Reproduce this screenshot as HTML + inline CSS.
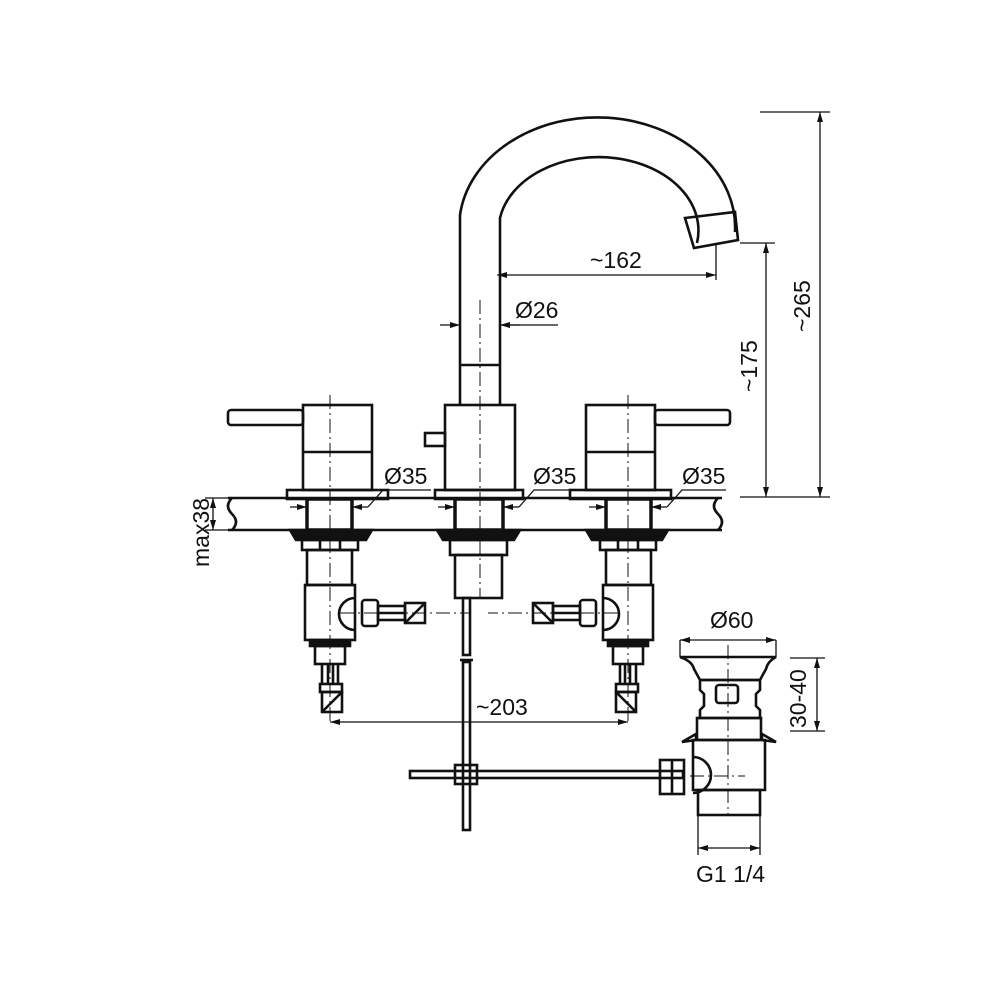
<!DOCTYPE html>
<html><head><style>html,body{margin:0;background:#fff}svg{display:block}text{font-family:"Liberation Sans",sans-serif;font-size:23px;fill:#111}</style></head><body>
<svg width="1000" height="1000" viewBox="0 0 1000 1000" xmlns="http://www.w3.org/2000/svg">
<defs>
<marker id="a" viewBox="0 0 10 6" refX="10" refY="3" markerWidth="10" markerHeight="6" orient="auto-start-reverse" markerUnits="userSpaceOnUse"><path d="M0,0L10,3L0,6z" fill="#111"/></marker>
<g id="valve">
<rect x="303" y="405" width="69" height="85" />
<line x1="303" y1="452" x2="372" y2="452"/>
<rect x="228" y="410" width="75" height="15" rx="3"/>
<rect x="287" y="490" width="101" height="9"/>
<rect x="307" y="499" width="45" height="31" stroke-width="3.5"/>
<path d="M290,530h82l-6,10h-70z" fill="#111"/>
<rect x="302" y="540" width="56" height="10"/>
<line x1="320" y1="540" x2="320" y2="550"/><line x1="340" y1="540" x2="340" y2="550"/>
<rect x="307" y="550" width="45" height="35"/>
<rect x="305" y="585" width="50" height="55"/>
<path d="M355,598a16,16 0 0 0 0,32" />
<rect x="362" y="600" width="16" height="26" rx="3"/>
<rect x="378" y="606" width="27" height="14"/>
<line x1="378" y1="613" x2="405" y2="613"/>
<rect x="405" y="603" width="20" height="20"/><line x1="405" y1="623" x2="425" y2="603"/>
<rect x="310" y="640" width="40" height="6" fill="#111"/>
<rect x="315" y="646" width="30" height="18"/>
<line x1="322" y1="664" x2="322" y2="685"/><line x1="328" y1="664" x2="328" y2="685"/><line x1="333" y1="664" x2="333" y2="685"/><line x1="338" y1="664" x2="338" y2="685"/>
<rect x="320" y="684" width="22" height="8"/>
<rect x="322" y="692" width="20" height="20"/><line x1="322" y1="712" x2="342" y2="692"/>
<line x1="330" y1="395" x2="330" y2="725" stroke-width="1" stroke-dasharray="14,4,2,4"/>
<line x1="340" y1="613" x2="470" y2="613" stroke-width="1" stroke-dasharray="14,4,2,4"/>
</g>
</defs>
<g fill="none" stroke="#111" stroke-width="2.6">
<line x1="228" y1="498" x2="722" y2="498"/><line x1="228" y1="530" x2="722" y2="530"/>
<path d="M232,498q-8,8 0,16q8,8 0,16M718,498q-8,8 0,16q8,8 0,16"/>
<use href="#valve"/>
<use href="#valve" transform="translate(958,0) scale(-1,1)"/>
<path d="M460,405V215A138,110 0 0 1 735,232"/>
<path d="M500,405V218A98,72 0 0 1 697,243"/>
<path d="M685,218l50,-6l3,28l-44,8z"/>
<line x1="460" y1="365" x2="500" y2="365"/>
<rect x="445" y="405" width="70" height="85"/>
<rect x="425" y="433" width="20" height="13"/>
<rect x="435" y="490" width="88" height="9"/>
<rect x="455" y="499" width="48" height="31" stroke-width="3.5"/>
<path d="M437,530h83l-6,10h-71z" fill="#111"/>
<rect x="450" y="540" width="57" height="15"/>
<rect x="455" y="555" width="47" height="43"/>
<line x1="480" y1="300" x2="480" y2="598" stroke-width="1" stroke-dasharray="14,4,2,4"/>
<rect x="463" y="598" width="7" height="57"/>
<rect x="463" y="662" width="7" height="168"/>
<line x1="460" y1="660" x2="473" y2="660"/>
<rect x="410" y="771" width="273" height="7"/>
<rect x="455" y="765" width="22" height="19"/>
<path d="M680,657h96q-8,4 -10,12l-6,11h-60l-6,-11q-2,-8 -14,-12z"/>
<path d="M700,680h60v10l-4,4v12l4,4v8h-60v-8l4,-4v-12l-4,-4z"/>
<rect x="716" y="685" width="22" height="18" rx="3"/>
<rect x="697" y="718" width="64" height="22"/>
<path d="M693,740h72v50h-72zM682,742l14,-8v6zM776,742l-14,-8v6z"/>
<path d="M693,757a18,18 0 0 1 0,36"/>
<rect x="660" y="760" width="24" height="34"/><line x1="672" y1="760" x2="672" y2="794"/>
<rect x="698" y="790" width="62" height="25"/>
<line x1="728" y1="645" x2="728" y2="815" stroke-width="1" stroke-dasharray="14,4,2,4"/>
<line x1="690" y1="776" x2="745" y2="776" stroke-width="1" stroke-dasharray="14,4,2,4"/>
</g>
<g stroke="#111" stroke-width="1.3" fill="none">
<line x1="497" y1="275" x2="716" y2="275" marker-start="url(#a)" marker-end="url(#a)"/>
<line x1="716" y1="245" x2="716" y2="280"/>
<line x1="440" y1="325" x2="460" y2="325" marker-end="url(#a)"/><line x1="520" y1="325" x2="500" y2="325" marker-end="url(#a)"/><line x1="500" y1="325" x2="558" y2="325"/>
<line x1="740" y1="243" x2="775" y2="243"/><line x1="766" y1="243" x2="766" y2="497" marker-start="url(#a)" marker-end="url(#a)"/>
<line x1="760" y1="112" x2="830" y2="112"/><line x1="820" y1="112" x2="820" y2="497" marker-start="url(#a)" marker-end="url(#a)"/>
<line x1="740" y1="497" x2="830" y2="497"/>
<line x1="205" y1="498" x2="228" y2="498"/><line x1="205" y1="530" x2="228" y2="530"/>
<line x1="213" y1="498" x2="213" y2="530" marker-start="url(#a)" marker-end="url(#a)"/>
<line x1="330" y1="722" x2="628" y2="722" marker-start="url(#a)" marker-end="url(#a)"/>
<line x1="680" y1="640" x2="776" y2="640" marker-start="url(#a)" marker-end="url(#a)"/>
<line x1="680" y1="640" x2="680" y2="657"/><line x1="776" y1="640" x2="776" y2="657"/>
<line x1="790" y1="658" x2="825" y2="658"/><line x1="790" y1="731" x2="825" y2="731"/>
<line x1="817" y1="658" x2="817" y2="731" marker-start="url(#a)" marker-end="url(#a)"/>
<line x1="698" y1="815" x2="698" y2="855"/><line x1="760" y1="815" x2="760" y2="855"/>
<line x1="698" y1="848" x2="760" y2="848" marker-start="url(#a)" marker-end="url(#a)"/>
<line x1="290" y1="507" x2="307" y2="507" marker-end="url(#a)"/><line x1="368" y1="507" x2="352" y2="507" marker-end="url(#a)"/><path d="M368,507l15,-17h48"/>
<line x1="438" y1="507" x2="455" y2="507" marker-end="url(#a)"/><line x1="519" y1="507" x2="503" y2="507" marker-end="url(#a)"/><path d="M519,507l15,-17h46"/>
<line x1="589" y1="507" x2="606" y2="507" marker-end="url(#a)"/><line x1="667" y1="507" x2="651" y2="507" marker-end="url(#a)"/><path d="M667,507l15,-17h44"/>
</g>
<text x="590" y="268">~162</text>
<text x="515" y="318">Ø26</text>
<text x="384" y="484">Ø35</text>
<text x="533" y="484">Ø35</text>
<text x="682" y="484">Ø35</text>
<text x="476" y="715">~203</text>
<text x="710" y="628">Ø60</text>
<text x="696" y="882">G1 1/4</text>
<text transform="translate(757,392) rotate(-90)">~175</text>
<text transform="translate(810,332) rotate(-90)">~265</text>
<text transform="translate(209,567) rotate(-90)">max38</text>
<text transform="translate(806,728) rotate(-90)">30-40</text>
</svg>
</body></html>
